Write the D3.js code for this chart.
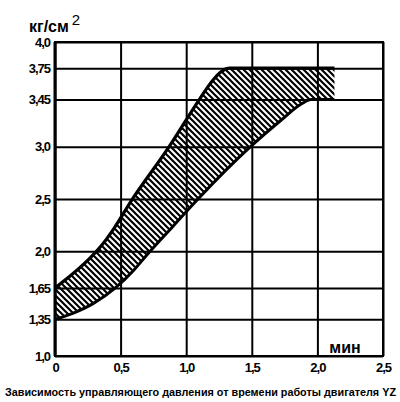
<!DOCTYPE html>
<html><head><meta charset="utf-8">
<script src="https://cdn.jsdelivr.net/npm/d3@7"></script>
<style>
html,body{margin:0;padding:0;background:#fff;}
svg{display:block;}
</style></head>
<body>
<script>
// ---- data ----
const xTicks = [0, 0.5, 1.0, 1.5, 2.0, 2.5];
const xTickLabels = ["0", "0,5", "1,0", "1,5", "2,0", "2,5"];
const yTicks = [1.0, 1.35, 1.65, 2.0, 2.5, 3.0, 3.45, 3.75, 4.0];
const yTickLabels = ["1,0", "1,35", "1,65", "2,0", "2,5", "3,0", "3,45", "3,75", "4,0"];
// upper boundary of the band (time, min ; pressure, kg/cm2)
const upperTime  = [0, 0.14, 0.27, 0.37, 0.45, 0.58, 0.87, 1.10, 1.20, 1.27, 1.33, 2.13];
const upperPress = [1.65, 1.79, 1.94, 2.08, 2.22, 2.48, 3.00, 3.45, 3.63, 3.72, 3.75, 3.75];
// lower boundary of the band
const lowerTime  = [0, 0.14, 0.29, 0.46, 0.60, 0.71, 0.90, 1.09, 1.49, 1.72, 1.88, 1.95, 2.13];
const lowerPress = [1.35, 1.41, 1.50, 1.65, 1.82, 1.98, 2.24, 2.50, 3.00, 3.25, 3.41, 3.45, 3.45];
const yUnit = "кг/см";
const xUnit = "мин";
const caption = "Зависимость управляющего давления от времени работы двигателя YZ";

const W = 400, H = 402;
const m = {left: 55, right: 17, top: 42, bottom: 46};
const svg = d3.select("body").append("svg").attr("width", W).attr("height", H);

const x = d3.scaleLinear().domain([0, 2.5]).range([m.left, W - m.right]);
const y = d3.scaleLinear().domain([1.0, 4.0]).range([H - m.bottom, m.top]);

// hatch pattern (diagonal lines from top-left to bottom-right)
const defs = svg.append("defs");
const P = 6;
const pat = defs.append("pattern").attr("id", "hatch")
  .attr("patternUnits", "userSpaceOnUse").attr("width", P).attr("height", P);
pat.append("rect").attr("width", P).attr("height", P).attr("fill", "#fff");
pat.append("path").attr("d", `M-1,-1L${P + 1},${P + 1}M-1,${P - 1}L1,${P + 1}M${P - 1},-1L${P + 1},1`)
  .attr("stroke", "#000").attr("stroke-width", 2.2);

const upper = upperTime.map((t, i) => [t, upperPress[i]]);
const lower = lowerTime.map((t, i) => [t, lowerPress[i]]);

const areaToBottom = d3.area().x(d => x(d[0])).y0(y(1.0)).y1(d => y(d[1])).curve(d3.curveMonotoneX);
svg.append("path").datum(upper).attr("d", areaToBottom).attr("fill", "url(#hatch)");
svg.append("path").datum(lower).attr("d", areaToBottom).attr("fill", "#fff")
  .attr("stroke", "#fff").attr("stroke-width", 2);

// grid + axes
const font = "'Liberation Sans', Arial, sans-serif";
const gx = svg.append("g").attr("transform", `translate(0,${y(1.0)})`)
  .call(d3.axisBottom(x).tickValues(xTicks).tickSize(-(y(1.0) - y(4.0)))
    .tickFormat((d, i) => xTickLabels[i]).tickPadding(5));
const gy = svg.append("g").attr("transform", `translate(${x(0)},0)`)
  .call(d3.axisLeft(y).tickValues(yTicks).tickSize(-(x(2.5) - x(0)))
    .tickFormat((d, i) => yTickLabels[i]).tickPadding(5));
[gx, gy].forEach(g => {
  g.select(".domain").remove();
  g.selectAll(".tick line").attr("stroke", "#000").attr("stroke-width", 2);
  g.selectAll(".tick text").attr("fill", "#000").style("font-family", font)
    .style("font-weight", "bold").style("font-size", "13px").style("letter-spacing", "-1px");
});
gx.selectAll(".tick text").attr("dy", "0.85em");
// frame
svg.append("rect").attr("x", x(0)).attr("y", y(4.0)).attr("width", x(2.5) - x(0))
  .attr("height", y(1.0) - y(4.0)).attr("fill", "none").attr("stroke", "#000").attr("stroke-width", 2);
svg.append("line").attr("x1", x(0)).attr("x2", x(0)).attr("y1", y(4.0)).attr("y2", y(1.0))
  .attr("stroke", "#000").attr("stroke-width", 3);

// band boundaries
const line = d3.line().x(d => x(d[0])).y(d => y(d[1])).curve(d3.curveMonotoneX);
svg.append("path").datum(upper).attr("d", line).attr("fill", "none").attr("stroke", "#000").attr("stroke-width", 3.2);
svg.append("path").datum(lower).attr("d", line).attr("fill", "none").attr("stroke", "#000").attr("stroke-width", 3);

// unit labels
const yl = svg.append("text").attr("x", 29).attr("y", 32).attr("fill", "#000")
  .style("font-family", font).style("font-size", "16px").style("font-weight", "bold");
yl.append("tspan").text(yUnit);
yl.append("tspan").attr("dx", 3).attr("dy", -7).style("font-size", "15px").style("font-weight", "normal").text("2");
svg.append("text").attr("x", 345).attr("y", 353).attr("text-anchor", "middle").attr("fill", "#000")
  .style("font-family", font).style("font-size", "16px").style("font-weight", "bold").text(xUnit);

// caption
svg.append("text").attr("x", 5).attr("y", 396).attr("fill", "#000")
  .attr("textLength", 391).attr("lengthAdjust", "spacingAndGlyphs")
  .style("font-family", font).style("font-size", "10px").style("font-weight", "bold").text(caption);
</script>
</body></html>
